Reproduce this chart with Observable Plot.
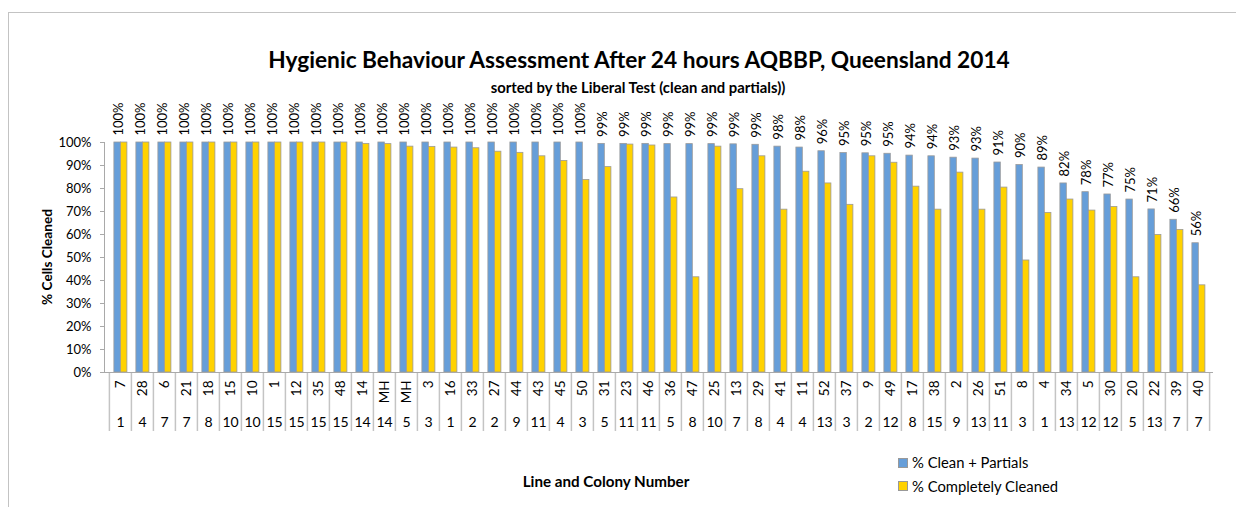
<!DOCTYPE html>
<html>
<head>
<meta charset="utf-8">
<script src="https://cdn.jsdelivr.net/npm/d3@7"></script>
<script src="https://cdn.jsdelivr.net/npm/@observablehq/plot@0.6"></script>
<style>
  html, body { margin: 0; padding: 0; background: #fff; overflow: hidden; }
  #wrap { position: relative; width: 1236px; height: 507px; overflow: hidden; font-family: Lato, "Open Sans", sans-serif; color: #000; }
  #border { position: absolute; left: 8px; top: 12px; width: 1400px; height: 700px; border-left: 1px solid #c3c3c3; border-top: 1px solid #c3c3c3; }
  #chart { position: absolute; left: 0; top: 0; }
  .t { position: absolute; white-space: nowrap; }
  #title { left: 639px; top: 49px; transform: translateX(-50%); font-weight: 700; font-size: 22.7px; line-height: 22.7px; }
  #subtitle { left: 638px; top: 80px; transform: translateX(-50%); font-weight: 700; font-size: 14.8px; line-height: 14.8px; }
  #ytitle { left: 47px; top: 257px; transform: translate(-50%, -50%) rotate(-90deg); font-weight: 700; font-size: 13.6px; }
  #xtitle { left: 606px; top: 481px; transform: translate(-50%, -50%); font-weight: 700; font-size: 15.2px; }
  .sw { position: absolute; width: 8px; height: 8px; border: 0.8px solid #999; }
  .lt { position: absolute; font-size: 14.8px; line-height: 15px; transform: translateY(-50%); }
</style>
</head>
<body>
<div id="wrap">
  <div id="border"></div>
  <div id="chart"></div>
  <div class="t" id="title">Hygienic Behaviour Assessment After 24 hours AQBBP, Queensland 2014</div>
  <div class="t" id="subtitle">sorted by the Liberal Test (clean and partials))</div>
  <div class="t" id="ytitle">% Cells Cleaned</div>
  <div class="t" id="xtitle">Line and Colony Number</div>
  <div class="sw" id="sw1" style="left:898px; top:458px;"></div>
  <div class="t lt" id="lt1" style="left:912px; top:462px;"></div>
  <div class="sw" id="sw2" style="left:898px; top:481px;"></div>
  <div class="t lt" id="lt2" style="left:912px; top:486px;"></div>
</div>
<script>
// ---- data ----
const colonyLabels = ["7","28","6","21","18","15","10","1","12","35","48","14","MH","MH","3","16","33","27","44","43","45","50","31","23","46","36","47","25","13","29","41","11","52","37","9","49","17","38","2","26","51","8","4","34","5","30","20","22","39","40"];
const lineLabels = ["1","4","7","7","8","10","10","15","15","15","15","14","14","5","3","1","2","2","9","11","4","3","5","11","11","5","8","10","7","8","4","4","13","3","2","12","8","15","9","13","11","3","1","13","12","12","5","13","7","7"];
const cleanPartials = [100,100,100,100,100,100,100,100,100,100,100,100,100,100,100,100,100,100,100,100,100,100,
  99.4,99.4,99.4,99.3,99.3,99.3,99.2,99.0,98.2,97.8,96.2,95.4,95.3,95.1,94.3,94.0,93.4,93.0,91.3,90.2,89.1,82.2,78.4,77.4,75.2,70.9,66.4,56.2];
const completelyCleaned = [100,100,100,100,100,100,100,100,100,100,100,99.4,99.3,98.2,98.1,97.8,97.5,96.0,95.5,94.0,92.0,83.7,
  89.3,99.1,98.7,76.1,41.4,98.2,79.7,94.0,70.8,87.3,82.2,72.9,94.0,91.2,80.8,70.8,86.9,70.8,80.4,48.7,69.4,75.2,70.4,72.0,41.4,59.8,62.0,37.9];
const seriesNames = ["% Clean + Partials", "% Completely Cleaned"];
const seriesColors = ["#669ED9", "#FFD200"];
const yTicks = [0,10,20,30,40,50,60,70,80,90,100];

// ---- build table ----
const keys = colonyLabels.map((c, i) => i);
const data = keys.map(i => ({key: i, colony: colonyLabels[i], line: lineLabels[i], clean: cleanPartials[i], complete: completelyCleaned[i]}));

const W = 1236, H = 440, ML = 104, MR = 23, MT = 142, MB = 68;
const n = keys.length;
const step = (W - ML - MR) / n;
const bw = 6.6;
const padL = (step - 2 * bw) / 2 + 0.4;
const barStroke = "#9a9a9a";
const lineGray = "#c4c4c4";

const chart = Plot.plot({
  width: W, height: H,
  marginLeft: ML, marginRight: MR, marginTop: MT, marginBottom: MB,
  style: {fontFamily: "Lato, 'Open Sans', sans-serif", fontSize: "12px", background: "transparent", overflow: "visible", color: "#000"},
  x: {type: "band", domain: keys, padding: 0},
  y: {domain: [0, 100]},
  marks: [
    Plot.barY(data, {x: "key", y: "clean", fill: seriesColors[0], stroke: barStroke, strokeWidth: 0.8,
      insetLeft: padL, insetRight: step - padL - bw}),
    Plot.barY(data, {x: "key", y: "complete", fill: seriesColors[1], stroke: barStroke, strokeWidth: 0.8,
      insetLeft: padL + bw, insetRight: step - padL - 2 * bw}),
    Plot.frame({anchor: "left", stroke: "#a9a9a9", strokeWidth: 1}),
    Plot.axisY({ticks: yTicks, tickFormat: d => d + "%", tickSize: 4, tickPadding: 9, stroke: "#a9a9a9", fill: "#000", fontSize: 13, label: null}),
    Plot.axisX({ticks: keys, tickSize: 59, tickFormat: () => "", dx: -step / 2, stroke: lineGray, strokeWidth: 1.5, label: null}),
    Plot.axisX({ticks: [keys[n - 1]], tickSize: 59, tickFormat: () => "", dx: step / 2, stroke: lineGray, strokeWidth: 1.5, label: null}),
    Plot.ruleY([0], {stroke: "#a9a9a9", strokeWidth: 1.2}),
    Plot.text(data, {x: "key", text: "colony", frameAnchor: "bottom", rotate: -90, textAnchor: "end", lineAnchor: "middle", dy: 8, fontSize: 13.5}),
    Plot.text(data, {x: "key", text: "line", frameAnchor: "bottom", lineAnchor: "middle", dy: 50, fontSize: 14}),
    Plot.text(data, {x: "key", y: "clean", text: d => Math.round(d.clean) + "%", rotate: -90, textAnchor: "start", lineAnchor: "middle", dy: -7, dx: -2, fontSize: 13})
  ]
});
document.getElementById("chart").appendChild(chart);

document.getElementById("sw1").style.background = seriesColors[0];
document.getElementById("sw2").style.background = seriesColors[1];
document.getElementById("lt1").textContent = seriesNames[0];
document.getElementById("lt2").textContent = seriesNames[1];
</script>
</body>
</html>
